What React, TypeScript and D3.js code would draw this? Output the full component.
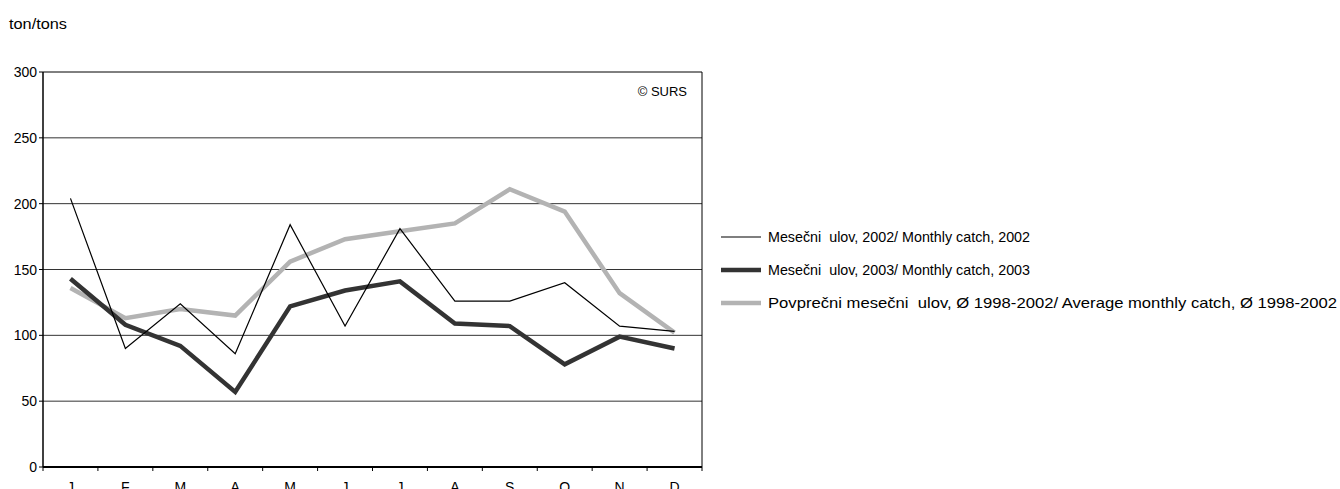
import React from "react";
import * as d3 from "d3";

const months = ["J", "F", "M", "A", "M", "J", "J", "A", "S", "O", "N", "D"];
const catch2002 = [204, 90, 124, 86, 184, 107, 181, 126, 126, 140, 107, 103];
const catch2003 = [143, 108, 92, 57, 122, 134, 141, 109, 107, 78, 99, 90];
const avg9802 = [136, 113, 120, 115, 156, 173, 179, 185, 211, 194, 132, 102];
const yTicks = [0, 50, 100, 150, 200, 250, 300];
const legendLabels = [
  "Mesečni  ulov, 2002/ Monthly catch, 2002",
  "Mesečni  ulov, 2003/ Monthly catch, 2003",
  "Povprečni mesečni  ulov, Ø 1998-2002/ Average monthly catch, Ø 1998-2002",
];
const legendWidths = [262, 262, 569];

const W = 1340, H = 489;
const left = 43, right = 702, top = 72, bottom = 467;
const font = "'Liberation Sans', Arial, sans-serif";

export default function App() {
  const idx = months.map((_, i) => i);
  const x = d3.scaleBand<number>().domain(idx).range([left, right]);
  const y = d3.scaleLinear().domain([0, 300]).range([bottom, top]);
  const cx = (i: number) => (x(i) as number) + x.bandwidth() / 2;
  const line = d3.line<number>().x((_, i) => cx(i)).y((d) => y(d));

  const series = [
    { data: avg9802, color: "#b3b3b3", w: 4.5 },
    { data: catch2003, color: "#333333", w: 4.5 },
    { data: catch2002, color: "#000000", w: 1.2 },
  ];
  const legend = [
    { color: "#000000", w: 1.2 },
    { color: "#333333", w: 4.5 },
    { color: "#b3b3b3", w: 4.5 },
  ];

  return (
    <svg width={W} height={H} style={{ position: "absolute", left: 0, top: 0, background: "#fff" }} fontFamily={font}>
      <text x={9} y={28.5} fontSize={14} fill="#000" textLength={58} lengthAdjust="spacingAndGlyphs">ton/tons</text>
      {yTicks.map((t) => (
        <g key={t}>
          {t > 0 && t < 300 && (
            <line x1={left} x2={right} y1={y(t)} y2={y(t)} stroke="#333" strokeWidth={1} />
          )}
          <line x1={left - 4} x2={left} y1={y(t)} y2={y(t)} stroke="#000" />
          <text x={37} y={y(t) + 5} textAnchor="end" fontSize={14} fill="#000">{t}</text>
        </g>
      ))}
      <line x1={left} x2={right} y1={top} y2={top} stroke="#000" />
      <line x1={right} x2={right} y1={top} y2={bottom} stroke="#000" />
      <line x1={left} x2={left} y1={top} y2={bottom} stroke="#000" strokeWidth={1.5} />
      {d3.range(13).map((i) => {
        const xx = i < 12 ? (x(i) as number) : right;
        return <line key={i} x1={xx} x2={xx} y1={bottom} y2={bottom + 4} stroke="#000" />;
      })}
      <line x1={left} x2={right} y1={bottom} y2={bottom} stroke="#000" strokeWidth={2} />
      {months.map((m, i) => (
        <text key={i} x={cx(i)} y={492} textAnchor="middle" fontSize={14} fill="#000">{m}</text>
      ))}
      <text x={687} y={96} textAnchor="end" fontSize={13} fill="#000">© SURS</text>
      {series.map((s, k) => (
        <path key={k} d={line(s.data) as string} fill="none" stroke={s.color} strokeWidth={s.w} strokeLinejoin="miter" />
      ))}
      {legend.map((l, k) => (
        <g key={k}>
          <line x1={721} x2={761} y1={237 + k * 33} y2={237 + k * 33} stroke={l.color} strokeWidth={l.w} />
          <text x={768} y={242 + k * 33} fontSize={14.5} fill="#000" style={{ whiteSpace: "pre" }}
            textLength={legendWidths[k]} lengthAdjust="spacingAndGlyphs">{legendLabels[k]}</text>
        </g>
      ))}
    </svg>
  );
}
